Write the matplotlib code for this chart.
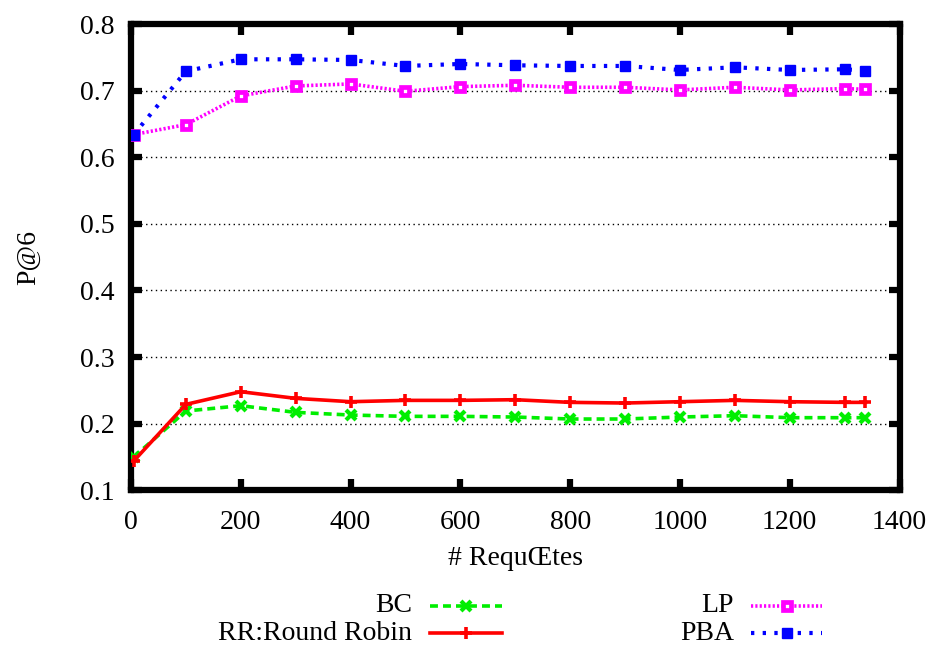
import matplotlib
matplotlib.use("Agg")
import matplotlib.pyplot as plt
from matplotlib.lines import Line2D

plt.rcParams['font.family'] = ['Liberation Serif', 'DejaVu Serif']

# ---- data ----
requetes = [5, 100, 200, 300, 400, 500, 600, 700, 800, 900, 1000, 1100, 1200, 1300, 1338]
bc = [0.150, 0.219, 0.227, 0.217, 0.213, 0.211, 0.211, 0.210, 0.207, 0.207, 0.210, 0.212, 0.209, 0.209, 0.209]
rr = [0.144, 0.229, 0.248, 0.238, 0.233, 0.235, 0.235, 0.236, 0.232, 0.231, 0.233, 0.235, 0.233, 0.232, 0.232]
lp = [0.634, 0.649, 0.692, 0.707, 0.710, 0.699, 0.706, 0.708, 0.705, 0.705, 0.701, 0.705, 0.701, 0.703, 0.702]
pba = [0.634, 0.729, 0.747, 0.747, 0.746, 0.737, 0.740, 0.738, 0.737, 0.737, 0.731, 0.735, 0.731, 0.732, 0.730]

labels = ["BC", "RR:Round Robin", "LP", "PBA"]
xticks = [0, 200, 400, 600, 800, 1000, 1200, 1400]
yticks = [0.1, 0.2, 0.3, 0.4, 0.5, 0.6, 0.7, 0.8]

FS = 20
W, H = 932, 647
fig = plt.figure(figsize=(W / 100, H / 100), dpi=100)
ax = fig.add_axes([131 / W, 1 - 490.3 / H, (899.5 - 131) / W, (490.3 - 24) / H])

styles = [
    dict(color='#00ee00', linestyle=(0, (2.2, 1.4)), lw=2.6, marker='x', ms=6.5, mew=3),
    dict(color='#ff0000', linestyle='-', lw=2.6, marker='+', ms=9, mew=2.6),
    dict(color='#ff00ff', linestyle=(0, (0.6, 0.6)), lw=2.6, marker='s', ms=6, mfc='white', mew=3.4),
    dict(color='#0000ff', linestyle=(0, (0.8, 2.0)), lw=3, marker='s', ms=7.5, mfc='#0000ff', mew=1),
]
series = [bc, rr, lp, pba]
order = [2, 3, 0, 1]
for i in order:
    ax.plot(requetes, series[i], **styles[i], zorder=3 + i)

ax.set_xlim(0, 1400)
ax.set_ylim(0.1, 0.8)
ax.set_xticks(xticks)
ax.set_xticklabels([str(t) for t in xticks])
ax.set_yticks(yticks)
ax.set_yticklabels([f"{t:.1f}" for t in yticks])
ax.grid(axis='y', color='black', linestyle=(0, (1, 2.5)), lw=1.0)
ax.grid(axis='x', visible=False)
for s in ax.spines.values():
    s.set_linewidth(4.5)
ax.tick_params(direction='in', length=8, width=4.5, labelsize=FS,
               top=True, right=True, pad=14)
ax.tick_params(axis='y', pad=12)
ax.set_xlabel("# RequŒtes", fontsize=FS, labelpad=8)
ax.set_ylabel("P@6", fontsize=FS, labelpad=28)

# ---- legend drawn in pixel coordinates ----
lax = fig.add_axes([0, 0, 1, 1])
lax.set_xlim(0, W)
lax.set_ylim(H, 0)
lax.axis('off')
entries = [(0, 412, 430, 502, 605.5), (1, 412, 430, 502, 633),
           (2, 734, 751, 822, 605.5), (3, 734, 751, 822, 633)]
for i, tx, x0, x1, y in entries:
    lax.text(tx, y, labels[i], ha='right', va='center', fontsize=FS)
    st = dict(styles[i])
    mk = st.pop('marker'); ms = st.pop('ms'); mew = st.pop('mew')
    mfc = st.pop('mfc', None)
    lax.add_line(Line2D([x0, x1], [y, y], **st))
    lax.add_line(Line2D([(x0 + x1) / 2], [y], color=st['color'], marker=mk, ms=ms,
                        mew=mew, mfc=mfc if mfc else st['color'], linestyle='none'))

fig.savefig("out.png", dpi=100)
